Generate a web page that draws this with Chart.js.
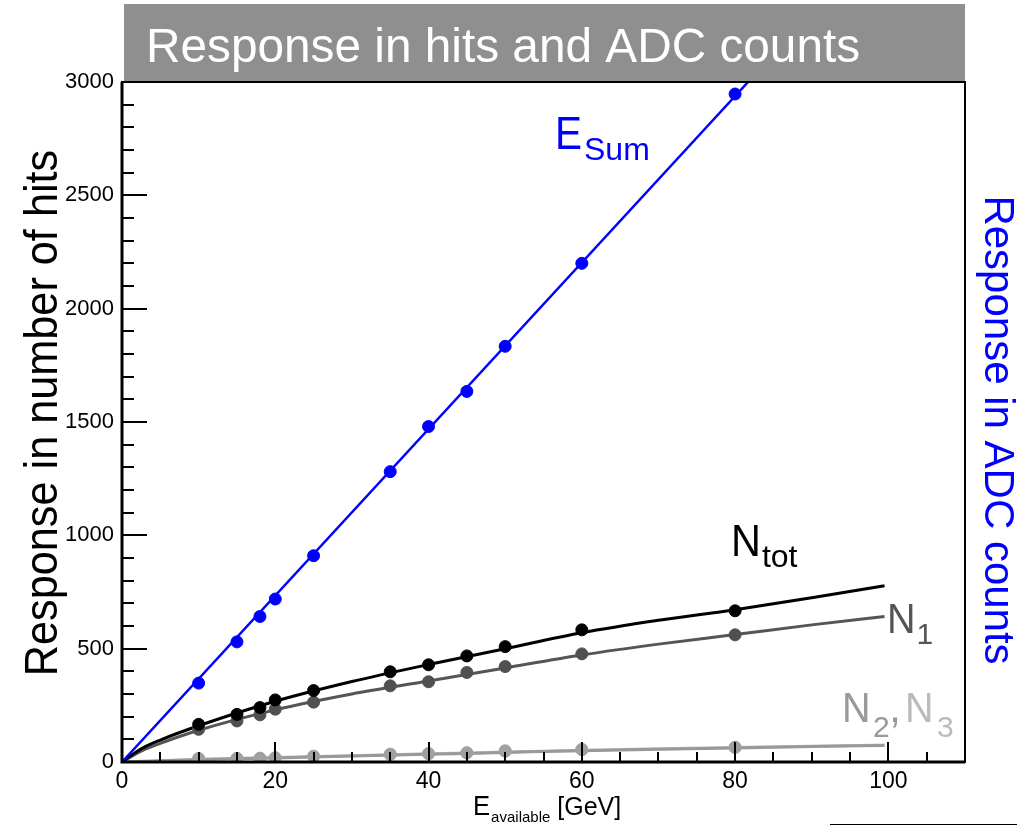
<!DOCTYPE html>
<html>
<head>
<meta charset="utf-8">
<script src="https://cdn.jsdelivr.net/npm/chart.js@4.4.1/dist/chart.umd.min.js"></script>
<style>
  html, body { margin: 0; padding: 0; background: #ffffff; }
  #wrap { width: 1021px; height: 826px; position: relative; }
</style>
</head>
<body>
<div id="wrap"><canvas id="c" width="1021" height="826"></canvas></div>
<script>
// ---- data ----
const energy = [10, 15, 18, 20, 25, 35, 40, 45, 50, 60, 80];
const eSum   = [348, 530, 642, 719, 910, 1281, 1480, 1635, 1834, 2200, 2947];
const nTot   = [166, 210, 240, 274, 315, 398, 429, 468, 509, 583, 667];
const n1     = [144, 181, 208, 233, 264, 336, 354, 395, 421, 477, 561];
const n2     = [16, 16, 17, 19, 26, 35, 38, 41, 50, 56, 66];
const n3     = [14, 15, 16, 18, 24, 33, 36, 40, 47, 54, 64];

// fitted curves
const eSumFitX = [0, 81.7];
const eSumFitY = [0, 3000];
const fitX     = [0, 2.5, 5, 10, 20, 30, 40, 50, 60, 70, 80, 90, 99.5];
const nTotFit  = [0, 58, 97, 160, 268, 355, 430, 500, 570, 625, 672, 725, 778];
const n1Fit    = [0, 48, 82, 140, 230, 300, 357, 415, 472, 520, 562, 605, 642];
const n2Fit    = [0, 3, 6, 12, 20, 28, 36, 44, 52, 58, 64, 70, 75];
const n3Fit    = [0, 2, 5, 10, 18, 26, 34, 42, 50, 56, 62, 68, 73];

// axis ticks
const yMajor = [0, 500, 1000, 1500, 2000, 2500, 3000];
const xMajor = [0, 20, 40, 60, 80, 100];

const FONT = "'Liberation Sans', Arial, Helvetica, sans-serif";

function pts(xs, ys) { return xs.map((x, i) => ({ x: x, y: ys[i] })); }

function fitDS(xs, ys, color, w) {
  return { data: pts(xs, ys), showLine: true, borderColor: color, borderWidth: w,
           pointRadius: 0, pointHoverRadius: 0, cubicInterpolationMode: 'monotone', order: 2 };
}
function ptDS(ys, color, r) {
  return { data: pts(energy, ys), showLine: false, backgroundColor: color, borderColor: color,
           pointRadius: r, pointBorderWidth: 1, order: 1 };
}

function drawScaled(ctx, text, x, y, size, sx, color, align) {
  ctx.save();
  ctx.translate(x, y);
  ctx.scale(sx, 1);
  ctx.font = size + 'px ' + FONT;
  ctx.fillStyle = color;
  ctx.textAlign = align || 'left';
  ctx.textBaseline = 'alphabetic';
  ctx.fillText(text, 0, 0);
  const w = ctx.measureText(text).width * sx;
  ctx.restore();
  return w;
}

const decor = {
  id: 'decor',
  beforeDraw(chart) {
    const ctx = chart.ctx;
    ctx.save();
    // title bar
    ctx.fillStyle = '#8f8f8f';
    ctx.fillRect(124, 4, 841, 78);
    drawScaled(ctx, 'Response in hits and ADC counts', 146, 62, 48, 0.995, '#ffffff', 'left');
    ctx.restore();
  },
  afterDatasetsDraw(chart) {
    const ctx = chart.ctx;
    const a = chart.chartArea;
    const xs = chart.scales.x, ys = chart.scales.y;
    ctx.save();
    // frame
    ctx.strokeStyle = '#000';
    ctx.lineWidth = 2;
    ctx.strokeRect(a.left, a.top, a.right - a.left, a.bottom - a.top);
    ctx.lineWidth = 3;
    ctx.beginPath();
    ctx.moveTo(a.left, a.top); ctx.lineTo(a.left, a.bottom); ctx.lineTo(a.right, a.bottom);
    ctx.stroke();
    // tick marks inside
    ctx.lineWidth = 2;
    ctx.beginPath();
    ys.ticks.forEach(t => {
      const p = Math.round(ys.getPixelForValue(t.value));
      const len = yMajor.includes(t.value) ? 25 : 12;
      ctx.moveTo(a.left, p); ctx.lineTo(a.left + len, p);
    });
    xs.ticks.forEach(t => {
      const p = Math.round(xs.getPixelForValue(t.value));
      const len = xMajor.includes(t.value) ? 20 : 10;
      ctx.moveTo(p, a.bottom); ctx.lineTo(p, a.bottom - len);
    });
    ctx.stroke();
    ctx.restore();
  },
  afterDraw(chart) {
    const ctx = chart.ctx;
    ctx.save();
    // left axis title
    ctx.save();
    ctx.translate(57, 413);
    ctx.rotate(-Math.PI / 2);
    drawScaled(ctx, 'Response in number of hits', 0, 0, 47, 0.92, '#000', 'center');
    ctx.restore();
    // right axis title
    ctx.save();
    ctx.translate(985, 430);
    ctx.rotate(Math.PI / 2);
    drawScaled(ctx, 'Response in ADC counts', 0, 0, 42, 1.0, '#0000ff', 'center');
    ctx.restore();
    // x axis title
    let w = drawScaled(ctx, 'E', 473, 815, 27, 0.95, '#000', 'left');
    w += drawScaled(ctx, 'available', 473 + w + 1, 822, 15, 1.0, '#000', 'left');
    drawScaled(ctx, ' [GeV]', 473 + w + 1, 815, 25, 1.0, '#000', 'left');
    // curve labels
    let e = drawScaled(ctx, 'E', 555, 149, 46, 0.88, '#0000ff', 'left');
    drawScaled(ctx, 'Sum', 555 + e + 2, 160, 32, 1.0, '#0000ff', 'left');
    let n = drawScaled(ctx, 'N', 731, 556, 45, 0.92, '#000', 'left');
    drawScaled(ctx, 'tot', 731 + n + 1, 567, 32, 1.0, '#000', 'left');
    n = drawScaled(ctx, 'N', 887, 633, 43, 0.92, '#555555', 'left');
    drawScaled(ctx, '1', 887 + n + 1, 644, 30, 1.0, '#555555', 'left');
    drawScaled(ctx, 'N', 842, 722, 43, 0.92, '#999999', 'left');
    drawScaled(ctx, '2', 873, 737, 30, 1.0, '#999999', 'left');
    drawScaled(ctx, ',', 889, 722, 43, 1.0, '#999999', 'left');
    drawScaled(ctx, 'N', 905, 722, 43, 0.92, '#bbbbbb', 'left');
    drawScaled(ctx, '3', 937, 737, 30, 1.0, '#bbbbbb', 'left');
    // small line bottom right
    ctx.strokeStyle = '#000';
    ctx.lineWidth = 1;
    ctx.beginPath();
    ctx.moveTo(830, 824.5); ctx.lineTo(1017, 824.5);
    ctx.stroke();
    ctx.restore();
  }
};

new Chart(document.getElementById('c'), {
  type: 'scatter',
  data: {
    datasets: [
      fitDS(eSumFitX, eSumFitY, '#0000ff', 2.5),
      fitDS(fitX, nTotFit, '#000000', 3),
      fitDS(fitX, n1Fit, '#555555', 3),
      fitDS(fitX, n3Fit, '#999999', 3),
      fitDS(fitX, n2Fit, '#bbbbbb', 3),
      ptDS(eSum, '#0000ff', 6),
      ptDS(nTot, '#000000', 6),
      ptDS(n1, '#505050', 6),
      ptDS(n3, '#a0a0a0', 6),
      ptDS(n2, '#b4b4b4', 6)
    ]
  },
  options: {
    responsive: false,
    animation: false,
    devicePixelRatio: 1,
    layout: { padding: { left: 0, top: 82, right: 56, bottom: 0 } },
    plugins: { legend: { display: false }, tooltip: { enabled: false }, title: { display: false } },
    scales: {
      x: {
        type: 'linear', min: 0, max: 110,
        grid: { display: false, drawTicks: false },
        border: { display: false },
        ticks: {
          stepSize: 5, autoSkip: false, maxRotation: 0, padding: 6,
          color: '#000', font: { family: FONT, size: 23 },
          callback: v => (xMajor.includes(v) ? String(v) : '')
        },
        afterFit: s => { s.height = 64; }
      },
      y: {
        type: 'linear', min: 0, max: 3000,
        grid: { display: false, drawTicks: false },
        border: { display: false },
        ticks: {
          stepSize: 100, autoSkip: false, padding: 8,
          color: '#000', font: { family: FONT, size: 22 },
          callback: v => (yMajor.includes(v) ? String(v) : '')
        },
        afterFit: s => { s.width = 122; }
      }
    }
  },
  plugins: [decor]
});
</script>
</body>
</html>
